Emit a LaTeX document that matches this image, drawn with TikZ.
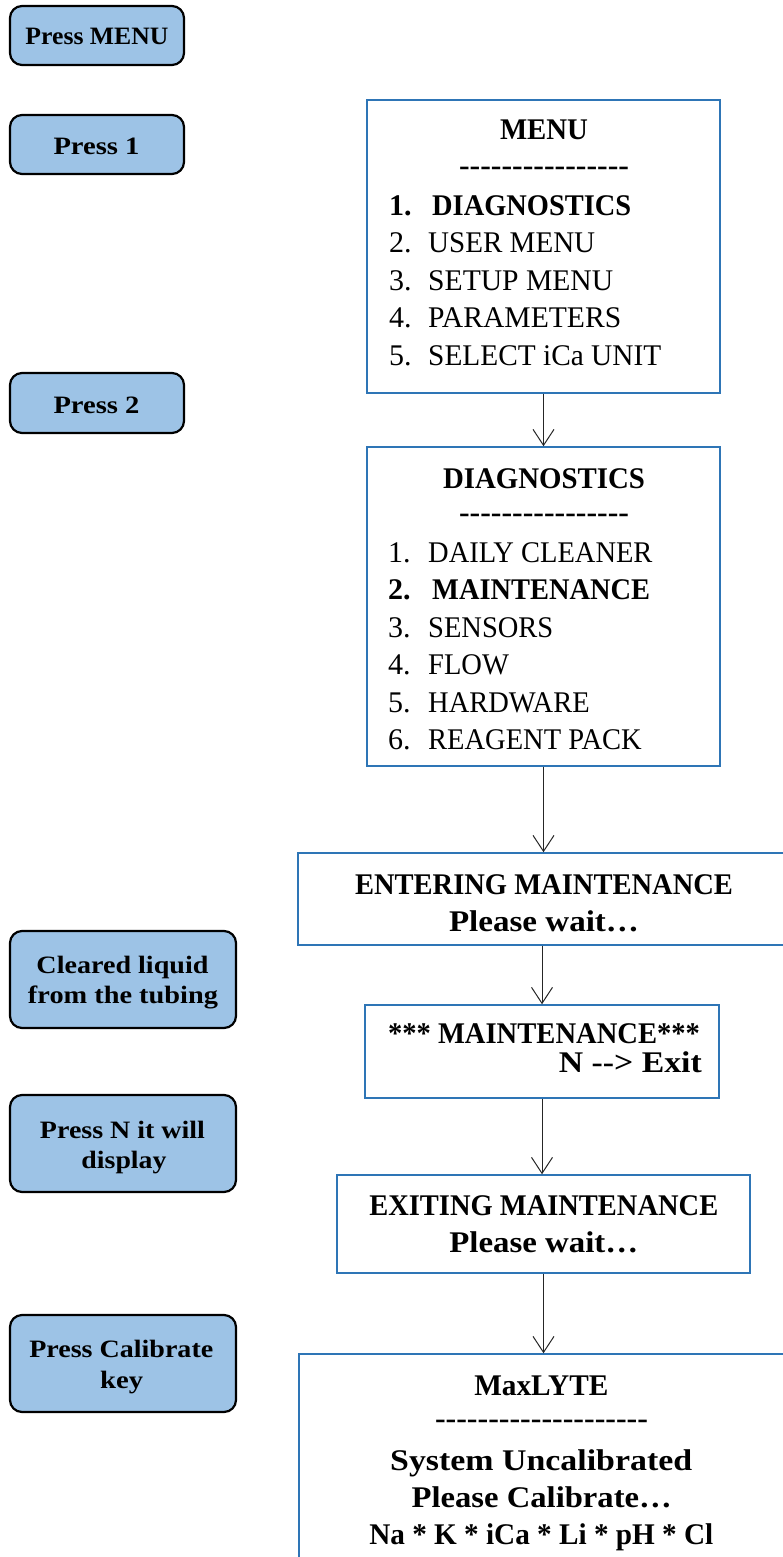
\documentclass[tikz,border=0pt]{standalone}
\usepackage{graphicx}
\usepackage{fontspec}
\setmainfont{Liberation Serif}[Ligatures=TeXOff]
\usetikzlibrary{arrows.meta,fit}
\definecolor{keyfill}{HTML}{9DC3E6}
\definecolor{screenline}{HTML}{2E75B6}
% set a line of text to a given width (in pt), keeping its height
\newcommand\fitwd[2]{\resizebox{#1pt}{\height}{#2}}
% slightly condensed capitals
\newcommand\cpcaps[1]{\scalebox{0.95}[1]{#1}}
\begin{document}
\begin{tikzpicture}[x=1pt,y=-1pt,
  keybox/.style={draw=black, line width=2.2pt, fill=keyfill, rounded corners=12pt, inner sep=0pt},
  screen/.style={draw=screenline, line width=1.5pt, fill=white, inner sep=0pt},
  keytext/.style={font=\fontsize{25}{30}\selectfont\bfseries, anchor=base, inner sep=0pt},
  txt/.style={font=\fontsize{30}{37}\selectfont, anchor=base west, inner sep=0pt},
  txtb/.style={font=\fontsize{30}{37}\selectfont\bfseries, anchor=base west, inner sep=0pt},
  line/.style={font=\fontsize{30}{37}\selectfont\bfseries, anchor=base, inner sep=0pt},
  flow/.style={-{Straight Barb[length=16pt,width=21pt]}, line width=1pt, draw=black!85},
]
\useasboundingbox (0,0) rectangle (782,1557);

% ---- keys to press ----
\node[keybox, fit={(10,6) (184,65)}] (kMenu) {};
\node[keytext] (kMenuA) at (97,45) {\fitwd{143}{Press MENU}};

\node[keybox, fit={(10,115) (184,174)}] (kOne) {};
\node[keytext] (kOneA) at (96.5,155) {\fitwd{86}{Press 1}};

\node[keybox, fit={(10,373) (184,433)}] (kTwo) {};
\node[keytext] (kTwoA) at (96.5,413) {\fitwd{86}{Press 2}};

\node[keybox, fit={(10,931) (236,1028)}] (kClear) {};
\node[keytext] (kClearA) at (122.5,973) {\fitwd{172}{Cleared liquid}};
\node[keytext] (kClearB) at (123,1003) {\fitwd{190}{from the tubing}};

\node[keybox, fit={(10,1095) (236,1192)}] (kN) {};
\node[keytext] (kNA) at (122.5,1138) {\fitwd{165}{Press N it will}};
\node[keytext] (kNB) at (124,1168) {\fitwd{85}{display}};

\node[keybox, fit={(10,1315) (236,1412)}] (kCal) {};
\node[keytext] (kCalA) at (121.3,1357) {\fitwd{184}{Press Calibrate}};
\node[keytext] (kCalB) at (121.7,1388) {\fitwd{43}{key}};

% ---- MENU screen ----
\node[screen, fit={(367,100) (720,393)}] (menu) {};
\node[line] (menuT) at (544,140) {\fitwd{88}{MENU}};
\node[line] (menuR) at (544,175.3) {\fitwd{170}{----------------}};
\node[txtb] (menuN1) at (389,215) {1.};
\node[txtb] (menuI1) at (432,215) {\fitwd{199}{DIAGNOSTICS}};
\node[txt] (menuN2) at (389,252.5) {2.};
\node[txt] (menuI2) at (428,252.5) {\fitwd{167}{USER MENU}};
\node[txt] (menuN3) at (389,290) {3.};
\node[txt] (menuI3) at (428,290) {\fitwd{185}{SETUP MENU}};
\node[txt] (menuN4) at (389,327.5) {4.};
\node[txt] (menuI4) at (428,327.5) {\fitwd{193}{PARAMETERS}};
\node[txt] (menuN5) at (389,365) {5.};
\node[txt] (menuI5) at (428,365) {\fitwd{233}{SELECT iCa UNIT}};

% ---- DIAGNOSTICS screen ----
\node[screen, fit={(367,447) (720,766)}] (diag) {};
\node[line] (diagT) at (544,488) {\fitwd{202}{DIAGNOSTICS}};
\node[line] (diagR) at (544,522.3) {\fitwd{170}{----------------}};
\node[txt] (diagN1) at (388,562) {1.};
\node[txt] (diagI1) at (428,562) {\cpcaps{DAILY CLEANER}};
\node[txtb] (diagN2) at (388,599.5) {2.};
\node[txtb] (diagI2) at (432,599.5) {\fitwd{218}{MAINTENANCE}};
\node[txt] (diagN3) at (388,637) {3.};
\node[txt] (diagI3) at (428,637) {\cpcaps{SENSORS}};
\node[txt] (diagN4) at (388,674.5) {4.};
\node[txt] (diagI4) at (428,674.5) {\cpcaps{FLOW}};
\node[txt] (diagN5) at (388,712) {5.};
\node[txt] (diagI5) at (428,712) {\cpcaps{HARDWARE}};
\node[txt] (diagN6) at (388,749.5) {6.};
\node[txt] (diagI6) at (428,749.5) {\cpcaps{REAGENT PACK}};

% ---- ENTERING MAINTENANCE screen ----
\node[screen, fit={(298,853) (800,945)}] (enter) {};
\node[line] (enterA) at (544,894) {\fitwd{378}{ENTERING MAINTENANCE}};
\node[line] (enterB) at (544,931) {\fitwd{190}{Please wait…}};

% ---- MAINTENANCE screen ----
\node[screen, fit={(365,1005) (719,1098)}] (maint) {};
\node[line] (maintA) at (544,1043) {\fitwd{312}{*** MAINTENANCE***}};
\node[line, anchor=base east] (maintB) at (702,1072) {\fitwd{143}{N --> Exit}};

% ---- EXITING MAINTENANCE screen ----
\node[screen, fit={(337,1175) (750,1273)}] (exit) {};
\node[line] (exitA) at (543.8,1215) {\fitwd{349}{EXITING MAINTENANCE}};
\node[line] (exitB) at (543.8,1252) {\fitwd{189}{Please wait…}};

% ---- MaxLYTE screen ----
\node[screen, fit={(299,1354) (820,1600)}] (maxl) {};
\node[line] (maxlT) at (541.3,1395) {\fitwd{134}{MaxLYTE}};
\node[line] (maxlR) at (541.5,1428.3) {\fitwd{213}{--------------------}};
\node[line] (maxlA) at (541.2,1470) {\fitwd{302}{System Uncalibrated}};
\node[line] (maxlB) at (541.7,1507) {\fitwd{260}{Please Calibrate…}};
\node[line] (maxlC) at (541.3,1544) {\fitwd{344}{Na * K * iCa * Li * pH * Cl}};

% ---- flow between screens ----
\draw[flow] (menu.south) -- (menu.south |- diag.north);
\draw[flow] (diag.south) -- (diag.south |- enter.north);
\draw[flow] (maint.north |- enter.south) -- (maint.north);
\draw[flow] (maint.south) -- (maint.south |- exit.north);
\draw[flow] (exit.south) -- (exit.south |- maxl.north);
\end{tikzpicture}
\end{document}
